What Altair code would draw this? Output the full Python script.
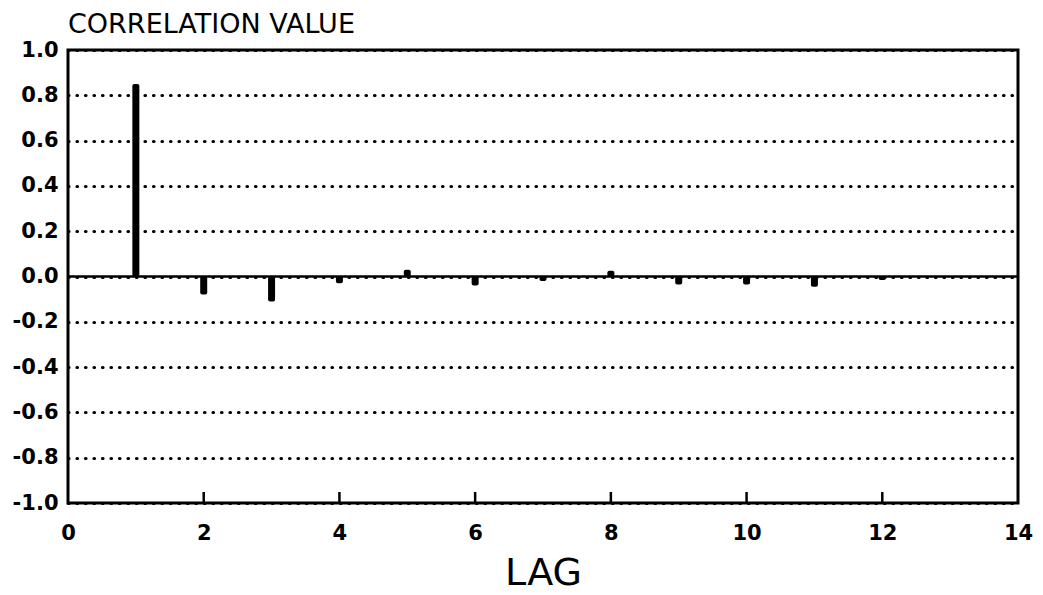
import altair as alt
import pandas as pd

lags = [1, 2, 3, 4, 5, 6, 7, 8, 9, 10, 11, 12]
corr = [0.85, -0.08, -0.11, -0.03, 0.03, -0.04, -0.02, 0.025, -0.035, -0.035, -0.045, -0.015]
x_ticks = [0, 2, 4, 6, 8, 10, 12, 14]
y_ticks = [-1.0, -0.8, -0.6, -0.4, -0.2, 0.0, 0.2, 0.4, 0.6, 0.8, 1.0]

df = pd.DataFrame({"lag": lags, "corr": corr})
ticks_df = pd.DataFrame({"t": x_ticks[1:-1]})
zero_df = pd.DataFrame({"z": [0.0]})

FONT = "DejaVu Sans"

xscale = alt.Scale(domain=[0, 14], nice=False, zero=False, padding=0)
yscale = alt.Scale(domain=[-1, 1], nice=False, padding=0)

bars = alt.Chart(df).mark_bar(color="black", size=7, cornerRadius=2).encode(
    x=alt.X("lag:Q", scale=xscale,
            axis=alt.Axis(values=x_ticks, title="LAG", grid=False, domain=False, ticks=False,
                          labelFontSize=21, labelFont=FONT, labelFontWeight="bold",
                          labelPadding=19, labelFlush=False, format="d",
                          titleFontSize=38, titleFont=FONT, titleFontWeight="normal",
                          titlePadding=11, labelColor="black", titleColor="black")),
    y=alt.Y("corr:Q", scale=yscale,
            axis=alt.Axis(values=y_ticks, title=None, grid=True, domain=False, ticks=False,
                          labelExpr="replace(format(datum.value, '.1f'), '\u2212', '-')",
                          labelFontSize=21, labelFont=FONT, labelFontWeight="bold",
                          labelPadding=10, labelColor="black",
                          gridColor="black", gridDash=[0.5, 8], gridWidth=3.2, gridCap="round",
                          gridOpacity=1)),
    y2=alt.datum(0),
)

zero_line = alt.Chart(zero_df).mark_rule(color="black", strokeWidth=2.5).encode(
    y=alt.Y("z:Q", scale=yscale)
)

xticks = alt.Chart(ticks_df).mark_tick(color="black", thickness=2.5, size=12, yOffset=-5,
                                       opacity=1).encode(
    x=alt.X("t:Q", scale=xscale),
    y=alt.Y(datum=-1.0, scale=yscale),
)

chart = alt.layer(bars, zero_line, xticks).properties(
    width=950,
    height=453,
    background="white",
    title=alt.Title("CORRELATION VALUE", anchor="start", frame="group", fontSize=27, font=FONT,
                    fontWeight="normal", color="black", offset=0),
    autosize=alt.AutoSizeParams(type="none"),
    padding={"left": 60, "top": 42, "right": 16, "bottom": 90},
).configure_view(stroke="black", strokeWidth=3, strokeOpacity=1)

chart.save("out.html", embed_options={"renderer": "svg", "actions": False})
